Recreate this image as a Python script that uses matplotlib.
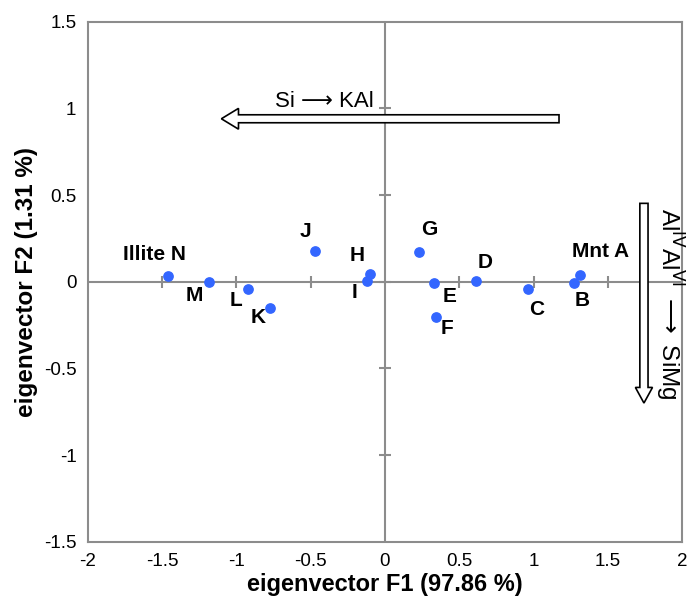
import matplotlib.pyplot as plt
from matplotlib.patches import FancyArrow
import numpy as np

plt.rcParams["font.family"] = ["Liberation Sans", "DejaVu Sans"]

# sample scores on the first two eigenvectors
names = ["Mnt A", "B", "C", "D", "E", "F", "G", "H", "I", "J", "K", "L", "M", "Illite N"]
f1 = [1.31, 1.27, 0.96, 0.61, 0.33, 0.34, 0.23, -0.10, -0.12, -0.47, -0.77, -0.92, -1.18, -1.46]
f2 = [0.04, -0.01, -0.04, 0.005, -0.006, -0.205, 0.17, 0.045, 0.005, 0.175, -0.15, -0.045, -0.002, 0.035]
# label offsets in pixels (dx, dy)
offsets = [(21, 23), (8, -17), (9, -21), (9, 18), (15, -14), (11, -11), (10, 23),
           (-13, 18), (-13, -12), (-10, 20), (-12, -10), (-12, -11), (-15, -13), (-13, 21)]

xticks = [-2, -1.5, -1, -0.5, 0, 0.5, 1, 1.5, 2]
yticks = [-1.5, -1, -0.5, 0, 0.5, 1, 1.5]
tick_labels_x = ["-2", "-1.5", "-1", "-0.5", "0", "0.5", "1", "1.5", "2"]
tick_labels_y = ["-1.5", "-1", "-0.5", "0", "0.5", "1", "1.5"]

fig = plt.figure(figsize=(6.87, 6.06), dpi=100)
ax = fig.add_axes([0.1274, 0.1061, 0.866, 0.8581])

gray = "#8c8c8c"
ax.axhline(0, color=gray, lw=1.5, zorder=1)
ax.axvline(0, color=gray, lw=1.5, zorder=1)
# cross tick marks on the zero lines
tx = [t for t in xticks if t not in (-2, 0, 2)]
ty = [t for t in yticks if t not in (-1.5, 1.5)]
ax.plot(tx, [0] * len(tx), ls="none", marker="|", ms=8, mew=1.5, color=gray, zorder=1)
ax.plot([0] * len(ty), ty, ls="none", marker="_", ms=8, mew=1.5, color=gray, zorder=1)

ax.scatter(f1, f2, s=45, color="#3366ff", zorder=3)
for n, x, y, (dx, dy) in zip(names, f1, f2, offsets):
    ax.annotate(n, (x, y), xytext=(dx, dy), textcoords="offset pixels",
                ha="center", va="center", fontsize=15, fontweight="bold")

# hollow arrows
ax.add_patch(FancyArrow(1.17, 0.94, -2.27, 0, width=0.046, head_width=0.12,
                        head_length=0.115, length_includes_head=True,
                        facecolor="white", edgecolor="black", lw=1.2, zorder=2))
ax.add_patch(FancyArrow(1.741, 0.452, 0, -1.152, width=0.055, head_width=0.115,
                        head_length=0.09, length_includes_head=True,
                        facecolor="white", edgecolor="black", lw=1.2, zorder=2))
ax.text(-0.41, 1.04, "Si \u27f6 KAl", ha="center", va="center", fontsize=16)
ax.text(1.91, -0.125, r"Al$^{\mathrm{IV}}$Al$^{\mathrm{VI}}$ $\longrightarrow$ SiMg",
        ha="center", va="center", fontsize=17.5, rotation=-90)

ax.set_xlim(-2, 2)
ax.set_ylim(-1.5, 1.5)
ax.set_xticks(xticks)
ax.set_xticklabels(tick_labels_x)
ax.set_yticks(yticks)
ax.set_yticklabels(tick_labels_y)
ax.tick_params(length=0, labelsize=13.5, pad=8)
for s in ax.spines.values():
    s.set_color(gray)
    s.set_linewidth(1.5)

ax.set_xlabel("eigenvector F1 (97.86 %)", fontsize=17, fontweight="bold", labelpad=2)
ax.set_ylabel("eigenvector F2 (1.31 %)", fontsize=17.5, fontweight="bold", labelpad=4)

fig.savefig("out.png", dpi=100)
